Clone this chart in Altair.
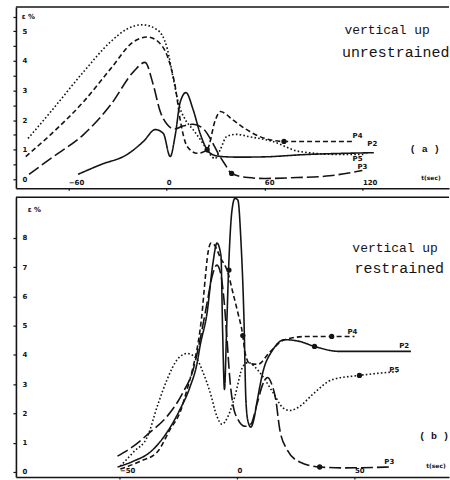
import altair as alt
import pandas as pd

# ---------------- panel (a): vertical up, unrestrained ----------------
a_p2_t = [-54, -40, -24, -14, -6.7, -1.8, 2.4, 5.5, 8.5, 12, 16.4, 20.7, 25, 29, 34, 45, 60, 86, 110, 127]
a_p2_v = [0.17, 0.5, 0.84, 1.28, 1.68, 1.55, 0.77, 1.5, 2.6, 2.93, 2.36, 1.55, 1.0, 0.82, 0.77, 0.75, 0.76, 0.84, 0.88, 0.9]

a_p3_t = [-84, -70.6, -50.5, -34, -20, -13, -8, -3.7, 0.6, 5, 10, 16.4, 22.5, 28.6, 31.7, 36, 40, 50, 60, 80, 100, 120]
a_p3_v = [0.17, 0.71, 1.52, 2.52, 3.64, 3.95, 3.2, 2.29, 1.85, 1.7, 1.8, 1.86, 1.72, 1.21, 0.88, 0.5, 0.2, 0.06, 0.03, 0.06, 0.12, 0.3]

a_p4_t = [-86, -70.6, -50.5, -34, -20, -11.6, -3.7, 2.4, 5.5, 8.5, 12.8, 18.9, 25, 30, 33, 41, 48, 57, 72, 90, 115]
a_p4_v = [0.77, 1.52, 2.63, 3.74, 4.65, 4.81, 4.58, 3.87, 3.13, 2.02, 1.11, 0.88, 1.0, 2.0, 2.29, 2.0, 1.72, 1.45, 1.28, 1.28, 1.28]

a_p5_t = [-84.6, -70.6, -50.5, -34, -24, -14.6, -5.5, 0.6, 4.3, 7.3, 11.6, 16.4, 22.5, 26.8, 29.8, 33, 37, 43, 50, 65, 81.6, 106, 122]
a_p5_v = [1.38, 2.29, 3.64, 4.65, 5.08, 5.22, 5.05, 4.41, 3.4, 2.6, 2.02, 1.68, 1.21, 0.84, 0.7, 1.0, 1.45, 1.52, 1.45, 1.28, 0.94, 0.84, 0.84]

a_dot_t = [72, 40, 25]
a_dot_v = [1.28, 0.2, 1.0]

a_lab_text = ["P4", "P2", "P5", "P3"]
a_lab_t = [114, 123, 114, 117]
a_lab_v = [1.45, 1.18, 0.7, 0.4]

a_xticks = [-60, 0, 60, 120]
a_yticks = [0, 0.5, 1, 1.5, 2, 2.5, 3, 3.5, 4, 4.5, 5, 5.5]

# ---------------- panel (b): vertical up, restrained ----------------
b_p2_t = [-50.8, -44, -36.9, -29.7, -24.2, -19.9, -16.9, -15.7, -12.7, -10.2, -8.5, -6.8, -6.1, -5.3, -4.4,
          -3.4, -2.1, -0.85, 0.4, 1.7, 3.0, 3.8, 4.7, 5.9, 7.2, 8.5, 11, 15.3, 20.3, 26.7, 33, 43.6, 74]
b_p2_v = [0.17, 0.37, 0.68, 1.36, 2.14, 2.92, 3.74, 4.3, 5.44, 7.14, 7.82, 7.4, 4.86, 2.82, 4.86,
          7.24, 8.95, 9.35, 9.29, 7.9, 5.2, 2.48, 1.73, 1.53, 1.8, 2.38, 3.4, 4.18, 4.52, 4.46, 4.29, 4.12, 4.12]

b_p3_t = [-50.8, -44, -36.9, -29.7, -22.9, -18.6, -15.7, -12.7, -10.6, -8.5, -6.8, -5.5, -4.2, -3, -1.7,
          0.4, 3.4, 5.9, 8.5, 11, 13.1, 14.8, 16.5, 18.2, 21.2, 26.7, 35.2, 45.8, 64.8]
b_p3_v = [0.54, 0.88, 1.36, 1.9, 2.72, 3.5, 4.52, 5.78, 6.67, 7.07, 6.73, 5.88, 4.52, 3.16, 2.31,
          1.8, 1.56, 1.63, 2.31, 3.0, 3.23, 3.0, 2.48, 1.46, 0.78, 0.34, 0.17, 0.14, 0.17]

b_p4_t = [-49.6, -41, -33.9, -28.4, -24.2, -21.2, -18.6, -16.5, -15, -13.5, -12.3, -11, -9.5, -7.2, -3.8,
          -1.7, 0.4, 2.5, 3.4, 5.5, 8.9, 14, 20.3, 29.7, 40.3, 50]
b_p4_v = [0.1, 0.37, 0.68, 1.46, 2.04, 2.82, 3.6, 4.42, 5.3, 6.6, 7.5, 7.82, 7.75, 7.35, 6.8,
          6.12, 5.44, 4.66, 4.1, 3.7, 3.68, 4.1, 4.52, 4.63, 4.63, 4.63]

b_p5_t = [-49.6, -44, -38, -33.9, -29.7, -25.4, -21.2, -16.9, -14.4, -11.4, -8.5, -6.4, -3.8, -0.85, 2.5,
          4.7, 9.7, 15.3, 19.5, 22.5, 26.7, 32.2, 40.7, 52.1, 68.2]
b_p5_v = [0.2, 0.68, 1.22, 2.24, 3.16, 3.84, 4.05, 3.84, 3.4, 2.72, 1.9, 1.63, 1.9, 2.59, 3.6,
          3.74, 3.4, 2.72, 2.2, 2.1, 2.24, 2.65, 3.16, 3.3, 3.43]

b_dot_t = [40.3, 33, 52.1, 35.2, -3.4, 2.5]
b_dot_v = [4.63, 4.29, 3.3, 0.17, 6.9, 4.66]

b_lab_text = ["P4", "P2", "P5", "P3"]
b_lab_t = [47, 69, 64.8, 62.7]
b_lab_v = [4.8, 4.29, 3.5, 0.34]

b_xticks = [-50, 0, 50]
b_yticks = [0, 1, 2, 3, 4, 5, 6, 7, 8]

SERIES = ["P2", "P3", "P4", "P5"]
DASHES = [[1, 0], [12, 4], [5, 3], [1.6, 2.2]]
INK = "#141414"


def long_df(pairs):
    rows = []
    for name, (ts, vs) in zip(SERIES, pairs):
        for t, v in zip(ts, vs):
            rows.append({"series": name, "t": t, "v": v})
    return pd.DataFrame(rows)


def panel(lines, dot_t, dot_v, lab_text, lab_t, lab_v, xdom, ydom, xticks, yticks,
          w, h, notes):
    x = alt.X("t:Q", scale=alt.Scale(domain=xdom, nice=False, zero=False),
              axis=alt.Axis(values=xticks, title=None, grid=False, domainColor=INK, domainWidth=1.6,
                            ticks=True, tickSize=2, tickColor=INK, tickWidth=1.2,
                            labelAlign="left", labelBaseline="bottom", labelPadding=-5,
                            labelFont="DejaVu Sans", labelFontSize=7, labelFontWeight="bold",
                            labelColor=INK, labelFlush=False, format="d"))
    y = alt.Y("v:Q", scale=alt.Scale(domain=ydom, nice=False, zero=False),
              axis=alt.Axis(values=yticks, title=None, grid=False, domainColor=INK, domainWidth=1.6,
                            ticks=True, tickSize=3, tickColor=INK, tickWidth=1.2,
                            labelAlign="left", labelBaseline="middle", labelPadding=-9,
                            labelFont="DejaVu Sans", labelFontSize=7, labelFontWeight="bold",
                            labelColor=INK, labelFlush=False,
                            labelExpr="datum.value % 1 === 0 ? format(datum.value, 'd') : ''"))

    line = alt.Chart(long_df(lines)).mark_line(
        interpolate="monotone", strokeWidth=1.6, color=INK, clip=True
    ).encode(
        x=x, y=y,
        strokeDash=alt.StrokeDash("series:N", scale=alt.Scale(domain=SERIES, range=DASHES), legend=None),
        detail="series:N",
    )
    dots = alt.Chart(pd.DataFrame({"t": dot_t, "v": dot_v})).mark_circle(
        size=28, color=INK, opacity=1
    ).encode(x=x, y=y)
    labs = alt.Chart(pd.DataFrame({"t": lab_t, "v": lab_v, "txt": lab_text})).mark_text(
        font="DejaVu Sans", fontSize=7, fontWeight="bold", color=INK, align="left", baseline="middle"
    ).encode(x=x, y=y, text="txt:N")

    layers = [line, dots, labs]
    for txt, t, v, font, size, weight in notes:
        layers.append(
            alt.Chart(pd.DataFrame({"t": [t], "v": [v], "txt": [txt]})).mark_text(
                font=font, fontSize=size, fontWeight=weight, color=INK, align="left",
                baseline="middle", clip=True
            ).encode(x=x, y=y, text="txt:N")
        )
    border = alt.Chart(pd.DataFrame({"k": [0]})).mark_rule(color=INK, strokeWidth=1.6).encode(
        x=alt.value(0), x2=alt.value(w), y=alt.value(0)
    )
    layers.append(border)
    return alt.layer(*layers).properties(width=w, height=h)


MONO = "Liberation Mono"
top = panel(
    [(a_p2_t, a_p2_v), (a_p3_t, a_p3_v), (a_p4_t, a_p4_v), (a_p5_t, a_p5_v)],
    a_dot_t, a_dot_v, a_lab_text, a_lab_t, a_lab_v,
    [-92, 173], [-0.3, 5.82], a_xticks, a_yticks, 435, 182,
    [
        ("vertical up", 109, 5.05, MONO, 13, "normal"),
        ("unrestrained", 107.5, 4.31, MONO, 15, "normal"),
        ("( a )", 149, 1.04, MONO, 10, "bold"),
        ("t(sec)", 156, 0.05, "DejaVu Sans", 6, "bold"),
        ("ε %", -88.5, 5.49, "DejaVu Sans", 7, "bold"),
    ],
)
bottom = panel(
    [(b_p2_t, b_p2_v), (b_p3_t, b_p3_v), (b_p4_t, b_p4_v), (b_p5_t, b_p5_v)],
    b_dot_t, b_dot_v, b_lab_text, b_lab_t, b_lab_v,
    [-94, 90.2], [-0.17, 9.39], b_xticks, b_yticks, 435, 281,
    [
        ("vertical up", 49.1, 7.65, MONO, 13, "normal"),
        ("restrained", 50, 6.97, MONO, 15, "normal"),
        ("( b )", 77.5, 1.22, MONO, 10, "bold"),
        ("t(sec)", 80.5, 0.2, "DejaVu Sans", 6, "bold"),
        ("ε %", -89, 8.95, "DejaVu Sans", 7, "bold"),
    ],
)

chart = alt.vconcat(top, bottom, spacing=5).properties(
    padding={"left": 12, "top": 5, "right": 0, "bottom": 0},
    background="white",
).configure_view(stroke=None)

chart.save("out.html", embed_options={"renderer": "svg", "actions": False})
